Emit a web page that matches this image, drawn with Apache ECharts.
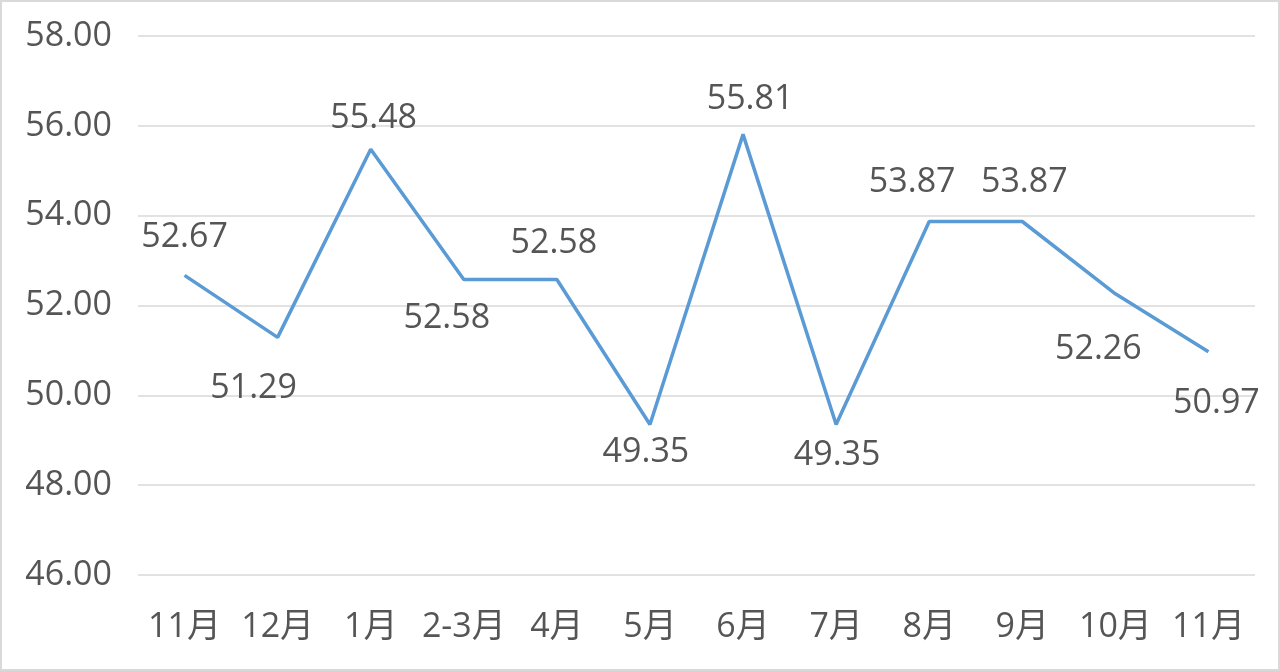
<!DOCTYPE html>
<html>
<head>
<meta charset="utf-8">
<script src="https://cdn.jsdelivr.net/npm/echarts@6/dist/echarts.min.js"></script>
<style>
html,body{margin:0;padding:0;background:#fff;}
#c{width:1280px;height:671px;}
</style>
</head>
<body>
<div id="c"></div>
<script>
const categories = ['11月','12月','1月','2-3月','4月','5月','6月','7月','8月','9月','10月','11月'];
const values = [52.67, 51.29, 55.48, 52.58, 52.58, 49.35, 55.81, 49.35, 53.87, 53.87, 52.26, 50.97];
const yTicks = [46, 48, 50, 52, 54, 56, 58];

// label placement (layout only)
const labelOffsets = [[0,-38],[-24,51],[3,-31],[-17,39],[-3,-36],[-4,28],[7,-35],[1,31],[-17,-39],[2,-39],[-17,55],[8,52]];

const FONT = '"Open Sans","Noto Sans CJK SC",sans-serif';
const TXT = '#555555';

const chart = echarts.init(document.getElementById('c'), null, {renderer:'canvas'});
chart.setOption({
  animation:false,
  backgroundColor:'#fff',
  graphic:[{type:'rect',shape:{x:1,y:1,width:1278,height:669},style:{fill:'none',stroke:'#d9d9d9',lineWidth:2},silent:true}],
  grid:{left:138,right:25,top:36,bottom:96,containLabel:false},
  xAxis:{
    type:'category',data:categories,boundaryGap:true,
    axisLine:{show:false},axisTick:{show:false},
    axisLabel:{color:TXT,fontFamily:FONT,fontSize:34,margin:35,interval:0}
  },
  yAxis:{
    type:'value',min:yTicks[0],max:yTicks[yTicks.length-1],interval:2,
    axisLine:{show:false},axisTick:{show:false},
    splitLine:{lineStyle:{color:'#d9d9d9',width:1.5}},
    axisLabel:{color:TXT,fontFamily:FONT,fontSize:34,margin:26,formatter:v=>v.toFixed(2)}
  },
  series:[{
    type:'line',
    data:values.map((v,i)=>({value:v,label:{offset:labelOffsets[i]}})),
    symbol:'circle',symbolSize:1,showSymbol:true,
    lineStyle:{color:'#5b9bd5',width:3.5},
    itemStyle:{color:'rgba(0,0,0,0)'},
    label:{show:true,position:'inside',color:TXT,fontFamily:FONT,fontSize:34,formatter:p=>p.value.toFixed(2)}
  }]
});
</script>
</body>
</html>
